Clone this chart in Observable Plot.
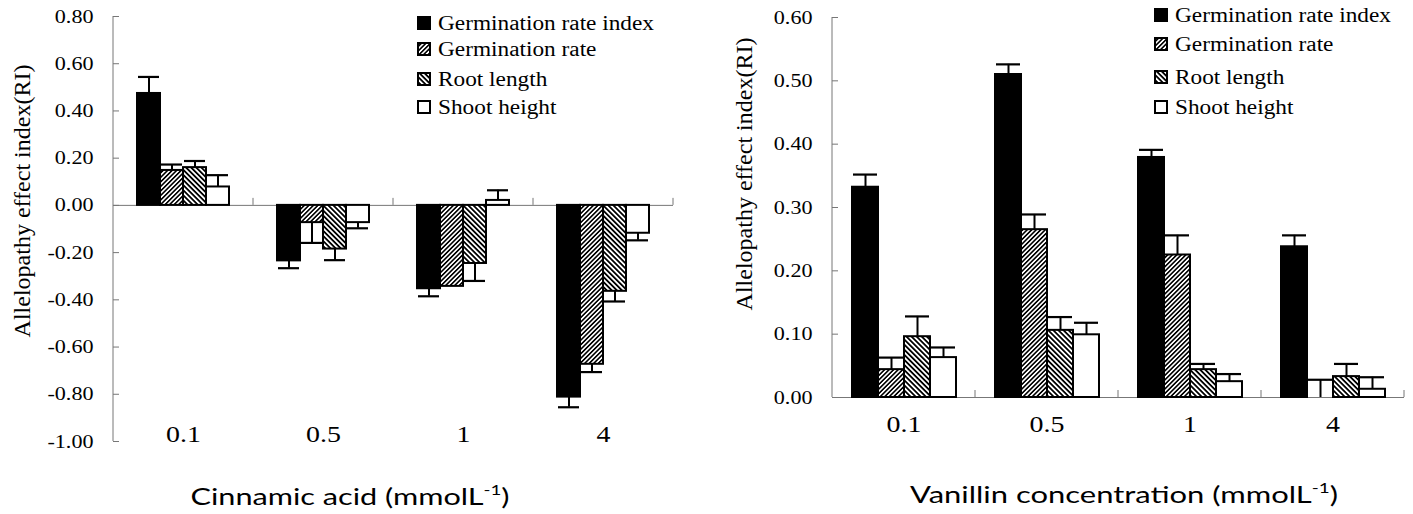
<!DOCTYPE html>
<html><head><meta charset="utf-8">
<script src="https://cdn.jsdelivr.net/npm/d3@7"></script>
<script src="https://cdn.jsdelivr.net/npm/@observablehq/plot@0.6"></script>
<style>
body{margin:0;background:#fff;}
#wrap{position:relative;width:1413px;height:514px;overflow:hidden;background:#fff;}
#wrap svg.chart{position:absolute;top:0;}
.leg{position:absolute;display:flex;align-items:center;height:24px;font-size:20px;white-space:nowrap;color:#000;}
.leg svg{margin-right:7px;flex:none;}
.leg span{display:inline-block;transform-origin:0 50%;}
.ytitle{position:absolute;white-space:nowrap;color:#000;}
.xtitle{position:absolute;white-space:nowrap;font-family:Lato,"Open Sans",sans-serif;font-size:23px;}
.xtitle sup{font-size:14px;vertical-align:10px;line-height:0;}
</style></head><body>
<svg width="0" height="0" style="position:absolute">
<defs>
<pattern id="hatchGR" patternUnits="userSpaceOnUse" width="3.2" height="3.2" patternTransform="rotate(45)">
<rect width="3.2" height="3.2" fill="white"/><rect width="1.6" height="3.2" fill="black"/>
</pattern>
<pattern id="hatchRL" patternUnits="userSpaceOnUse" width="3.6" height="3.6" patternTransform="rotate(-45)">
<rect width="3.6" height="3.6" fill="white"/><rect width="1.8" height="3.6" fill="black"/>
</pattern>
</defs></svg>
<div id="wrap"></div>
<script>
// ---- data ----
const concentrations = ["0.1", "0.5", "1", "4"];
const seriesNames = ["Germination rate index", "Germination rate", "Root length", "Shoot height"];
const seriesFills = ["black", "url(#hatchGR)", "url(#hatchRL)", "white"];

// Cinnamic acid: values per series across concentrations 0.1, 0.5, 1, 4
const cinnamicGRI   = [0.474, -0.235, -0.353, -0.812];
const cinnamicGR    = [0.148, -0.073, -0.343, -0.673];
const cinnamicRoot  = [0.160, -0.185, -0.246, -0.364];
const cinnamicShoot = [0.078, -0.073,  0.021, -0.118];
const cinnamicGRIErr   = [0.070, 0.031, 0.032, 0.043];
const cinnamicGRErr    = [0.025, 0.086, 0.000, 0.033];
const cinnamicRootErr  = [0.028, 0.047, 0.074, 0.043];
const cinnamicShootErr = [0.050, 0.024, 0.043, 0.030];

// Vanillin
const vanillinGRI   = [0.332, 0.510, 0.379, 0.238];
const vanillinGR    = [0.044, 0.265, 0.225, 0.000];
const vanillinRoot  = [0.096, 0.106, 0.044, 0.033];
const vanillinShoot = [0.063, 0.099, 0.025, 0.013];
const vanillinGRIErr   = [0.020, 0.016, 0.012, 0.018];
const vanillinGRErr    = [0.019, 0.024, 0.031, 0.028];
const vanillinRootErr  = [0.032, 0.021, 0.009, 0.020];
const vanillinShootErr = [0.016, 0.019, 0.012, 0.019];

const leftTicks = [-1.0, -0.8, -0.6, -0.4, -0.2, 0.0, 0.2, 0.4, 0.6, 0.8];
const rightTicks = [0.0, 0.1, 0.2, 0.3, 0.4, 0.5, 0.6];

const ctx = document.createElement("canvas").getContext("2d");
function measure(text, font) { ctx.font = font; return ctx.measureText(text).width; }
function hasFont(name) {
  const s = "mmmmmmmmmmlliiWQ@0.1234";
  return measure(s, `40px "${name}", monospace`) !== measure(s, "40px monospace") ||
         measure(s, `40px "${name}", sans-serif`) !== measure(s, "40px sans-serif");
}
const serifCandidates = ["Liberation Serif", "Tinos", "Times New Roman", "DejaVu Serif", "Noto Serif", "FreeSerif", "Nimbus Roman", "Nimbus Roman No9 L"];
const serifFound = serifCandidates.find(hasFont);
const SERIF = serifFound ? `"${serifFound}", serif` : "serif";

// horizontal stretch of the serif text in the reference (legend line is ~216px wide at 20px)
const stretch = 216 / measure("Germination rate index", "20px " + SERIF);

function buildRows(vals, errs) {
  const rows = [];
  concentrations.forEach((c, i) => {
    seriesNames.forEach((s, j) => {
      const v = vals[j][i], e = errs[j][i];
      rows.push({conc: c, series: s, value: v, err: e, end: v + (v < 0 ? -e : e)});
    });
  });
  return rows;
}
const cinnamicRows = buildRows([cinnamicGRI, cinnamicGR, cinnamicRoot, cinnamicShoot],
                               [cinnamicGRIErr, cinnamicGRErr, cinnamicRootErr, cinnamicShootErr]);
const vanillinRows = buildRows([vanillinGRI, vanillinGR, vanillinRoot, vanillinShoot],
                               [vanillinGRIErr, vanillinGRErr, vanillinRootErr, vanillinShootErr]);

function stretchText(sel) {
  sel.each(function () {
    const ax = parseFloat(this.getAttribute("x")) || 0;
    const t = this.getAttribute("transform") || "";
    this.setAttribute("transform", `${t} translate(${ax},0) scale(${stretch},1) translate(${-ax},0)`);
  });
}

function makeChart(rows, opts) {
  const withErr = rows.filter(d => d.err > 0);
  const plot = Plot.plot({
    width: opts.width, height: 514,
    marginLeft: opts.ml, marginRight: opts.mr, marginTop: opts.mt, marginBottom: opts.mb,
    className: "chart",
    style: {fontFamily: SERIF, fontSize: "19px", color: "black", background: "transparent", overflow: "visible"},
    fx: {domain: concentrations, padding: 0},
    x: {domain: seriesNames, paddingInner: 0, paddingOuter: opts.po, axis: null},
    y: {domain: opts.ydomain, axis: null},
    color: {domain: seriesNames, range: seriesFills},
    marks: [
      Plot.axisY(opts.ticks, {anchor: "left", tickSize: -6, tickPadding: opts.tp, tickFormat: d => d.toFixed(2), label: null, stroke: "#777", fill: "black", fontSize: 19}),
      Plot.ruleY([0], {stroke: "#777", strokeWidth: 1}),
      Plot.barY(rows, {fx: "conc", x: "series", y: "value", fill: "series", stroke: "black", strokeWidth: 2}),
      Plot.ruleX(withErr, {fx: "conc", x: "series", y1: "value", y2: "end", stroke: "black", strokeWidth: 2}),
      Plot.tickY(withErr, {fx: "conc", x: "series", y: "end", stroke: "black", strokeWidth: 2.2, inset: 1}),
      Plot.axisFx({anchor: "bottom", tickSize: 0, tickPadding: opts.fxpad, fontSize: 24, label: null})
    ]
  });
  const svg = d3.select(plot);
  stretchText(svg.selectAll('g[aria-label="y-axis tick label"] text'));
  stretchText(svg.selectAll('g[aria-label="fx-axis tick label"] text'));
  // y axis line and category boundary ticks, positioned from the library's own scales
  const fx = plot.scale("fx"), y = plot.scale("y");
  const y0 = y.apply(0);
  const g = svg.append("g").attr("stroke", "#777").attr("stroke-width", 1);
  const xLeft = fx.apply(concentrations[0]);
  g.append("line").attr("x1", xLeft).attr("x2", xLeft)
    .attr("y1", y.apply(opts.ydomain[0])).attr("y2", y.apply(opts.ydomain[1]));
  concentrations.forEach(c => {
    const xr = fx.apply(c) + fx.bandwidth;
    g.append("line").attr("x1", xr).attr("x2", xr).attr("y1", y0 - 7).attr("y2", y0);
  });
  plot.style.left = opts.left + "px";
  return plot;
}

const wrap = document.getElementById("wrap");
wrap.appendChild(makeChart(cinnamicRows, {width: 700, left: 0, ml: 111, mr: 26, mt: 16, mb: 73, po: 1, ydomain: [-1, 0.8], ticks: leftTicks, tp: 26, fxpad: -17}));
wrap.appendChild(makeChart(vanillinRows, {width: 713, left: 700, ml: 131, mr: 9, mt: 17, mb: 117, po: 0.72, ydomain: [0, 0.6], ticks: rightTicks, tp: 26, fxpad: 17}));

function legend(x, rowCenters) {
  seriesNames.forEach((s, i) => {
    const div = document.createElement("div");
    div.className = "leg";
    div.style.fontFamily = SERIF;
    div.style.left = x + "px";
    div.style.top = (rowCenters[i] - 12) + "px";
    div.innerHTML = `<svg width="14" height="14"><rect x="1" y="1" width="12" height="12" fill="${seriesFills[i]}" stroke="black" stroke-width="2"/></svg>`;
    const span = document.createElement("span");
    span.textContent = s;
    span.style.transform = `scaleX(${stretch})`;
    div.appendChild(span);
    wrap.appendChild(div);
  });
}
legend(417, [23, 49, 79, 107]);
legend(1154, [15, 44, 77, 107]);

// rotated y titles: top end of the text given
function yTitle(text, cx, top) {
  const fs = 24;
  const w = measure(text, fs + "px " + SERIF);
  const d = document.createElement("div");
  d.className = "ytitle";
  d.style.fontFamily = SERIF;
  d.style.fontSize = fs + "px";
  d.textContent = text;
  d.style.left = cx + "px";
  d.style.top = (top + w / 2) + "px";
  d.style.transform = "translate(-50%,-50%) rotate(-90deg)";
  wrap.appendChild(d);
}
yTitle("Allelopathy effect index(RI)", 22, 65);
yTitle("Allelopathy effect index(RI)", 744, 38);

// x titles fitted to the reference widths
function xTitle(html, left, right, cy) {
  const d = document.createElement("div");
  d.className = "xtitle";
  d.innerHTML = html;
  wrap.appendChild(d);
  const w = d.getBoundingClientRect().width;
  const s = (right - left) / w;
  d.style.left = ((left + right) / 2) + "px";
  d.style.top = cy + "px";
  d.style.transform = `translate(-50%,-50%) scaleX(${s})`;
}
xTitle("Cinnamic acid (mmolL<sup>-1</sup>)", 190, 509, 496);
xTitle("Vanillin concentration (mmolL<sup>-1</sup>)", 910, 1338, 494);
</script>
</body></html>
